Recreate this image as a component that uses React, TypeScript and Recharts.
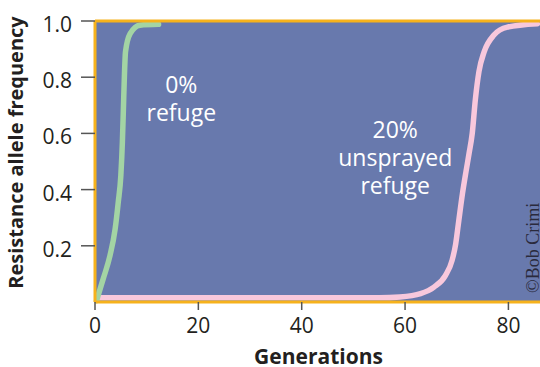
import {
  Label,
  Line,
  LineChart,
  ReferenceArea,
  ReferenceDot,
  ReferenceLine,
  XAxis,
  YAxis,
} from 'recharts';

// ----------------------------------------------------------------------

const noRefugeGen = [0.3, 1.6, 2.9, 3.9, 4.5, 5.0, 5.3, 5.5, 5.7, 5.9, 6.8, 8.7, 12.3];
const noRefugeFreq = [0.005, 0.083, 0.165, 0.26, 0.355, 0.45, 0.57, 0.69, 0.81, 0.89, 0.955, 0.985, 0.988];

const refugeGen = [0.8, 20, 40, 55, 59, 63, 65.6, 67.8, 69.1, 69.8, 70.4, 71.1, 71.8, 72.4, 73, 73.6, 74.3, 75.3, 77.2, 79.8, 85.6];
const refugeFreq = [0.015, 0.015, 0.015, 0.015, 0.018, 0.03, 0.053, 0.094, 0.148, 0.207, 0.29, 0.385, 0.465, 0.53, 0.6, 0.72, 0.82, 0.89, 0.95, 0.978, 0.99];

const xTicks = [0, 20, 40, 60, 80];
const yTicks = [0.2, 0.4, 0.6, 0.8, 1.0];

const noRefugeNote = ['0%', 'refuge'];
const refugeNote = ['20%', 'unsprayed', 'refuge'];

// ----------------------------------------------------------------------

const FONT = '"Open Sans", "Noto Sans", sans-serif';
const PLOT_BG = '#6879ad';
const BORDER = '#f6b21c';
const GREEN = '#a3d4a4';
const PINK = '#f8c8dc';
const INK = '#231f20';

const noRefugeData = noRefugeGen.map((g, i) => ({ gen: g, freq: noRefugeFreq[i] }));
const refugeData = refugeGen.map((g, i) => ({ gen: g, freq: refugeFreq[i] }));

function YTick({ x, y, payload }: any) {
  return (
    <text x={x} y={y} dy={11} textAnchor="end" fontSize={21} fontFamily={FONT} fill={INK}>
      {Number(payload.value).toFixed(1)}
    </text>
  );
}

function XTick({ x, y, payload }: any) {
  return (
    <text x={x} y={y} dy={15} textAnchor="middle" fontSize={21} fontFamily={FONT} fill={INK}>
      {payload.value}
    </text>
  );
}

// multi-line white note, one <text> per line
function note(lines: string[]) {
  return ({ viewBox }: any) => (
    <g>
      {lines.map((line, i) => (
        <text
          key={line + i}
          x={viewBox.x}
          y={viewBox.y + i * 28}
          textAnchor="middle"
          fontSize={23}
          fontFamily={FONT}
          fill="#ffffff"
        >
          {line}
        </text>
      ))}
    </g>
  );
}

function Credit({ viewBox }: any) {
  const x = viewBox.x + viewBox.width - 3;
  const y = viewBox.y + viewBox.height - 9;
  return (
    <text
      x={x}
      y={y}
      transform={`rotate(-90 ${x} ${y})`}
      fontSize={18}
      fontFamily='"Liberation Serif", "DejaVu Serif", serif'
      fill="#2a2a3c"
    >
      ©Bob Crimi
    </text>
  );
}

export default function App() {
  return (
    <div style={{ width: 540, height: 367 }}>
      <style>{'body{margin:0}'}</style>
      <LineChart width={540} height={367} margin={{ top: 21, right: -2, bottom: 0, left: 0 }}>
        <ReferenceArea
          x1={0}
          x2={86.5}
          y1={0}
          y2={1}
          fill={PLOT_BG}
          fillOpacity={1}
          stroke="none"
          ifOverflow="visible"
          label={<Credit />}
        />
        <XAxis
          type="number"
          dataKey="gen"
          domain={[0, 86.5]}
          ticks={xTicks}
          height={65}
          axisLine={false}
          tickLine={{ stroke: '#555', strokeWidth: 1.5 }}
          tickSize={8}
          tickMargin={8}
          tick={<XTick />}
        >
          <Label
            content={({ viewBox }: any) => (
              <text
                x={viewBox.x + viewBox.width / 2}
                y={364}
                textAnchor="middle"
                fontSize={21}
                fontWeight="bold"
                fontFamily={FONT}
                fill={INK}
              >
                Generations
              </text>
            )}
          />
        </XAxis>
        <YAxis
          type="number"
          domain={[0, 1]}
          ticks={yTicks}
          width={95}
          axisLine={false}
          tickLine={{ stroke: '#555', strokeWidth: 1.5 }}
          tickSize={14}
          tickMargin={9}
          tick={<YTick />}
        >
          <Label
            content={({ viewBox }: any) => {
              const x = 23;
              const y = viewBox.y + viewBox.height / 2 - 9;
              return (
                <text
                  x={x}
                  y={y}
                  transform={`rotate(-90 ${x} ${y})`}
                  textAnchor="middle"
                  fontSize={20}
                  fontWeight="bold"
                  fontFamily={FONT}
                  fill={INK}
                >
                  Resistance allele frequency
                </text>
              );
            }}
          />
        </YAxis>
        <Line
          data={refugeData}
          dataKey="freq"
          type="monotone"
          stroke={PINK}
          strokeWidth={5.5}
          strokeLinecap="round"
          dot={false}
          isAnimationActive={false}
        />
        <Line
          data={noRefugeData}
          dataKey="freq"
          type="monotone"
          stroke={GREEN}
          strokeWidth={5.5}
          strokeLinecap="round"
          dot={false}
          isAnimationActive={false}
        />
        <ReferenceLine x={0} stroke={BORDER} strokeWidth={3} ifOverflow="visible" />
        <ReferenceLine y={0} stroke={BORDER} strokeWidth={3} ifOverflow="visible" />
        <ReferenceLine y={1} stroke={BORDER} strokeWidth={3} ifOverflow="visible" />
        <ReferenceDot x={16.7} y={0.743} r={0} stroke="none" fill="none" label={note(noRefugeNote)} />
        <ReferenceDot x={58.1} y={0.585} r={0} stroke="none" fill="none" label={note(refugeNote)} />
      </LineChart>
    </div>
  );
}
